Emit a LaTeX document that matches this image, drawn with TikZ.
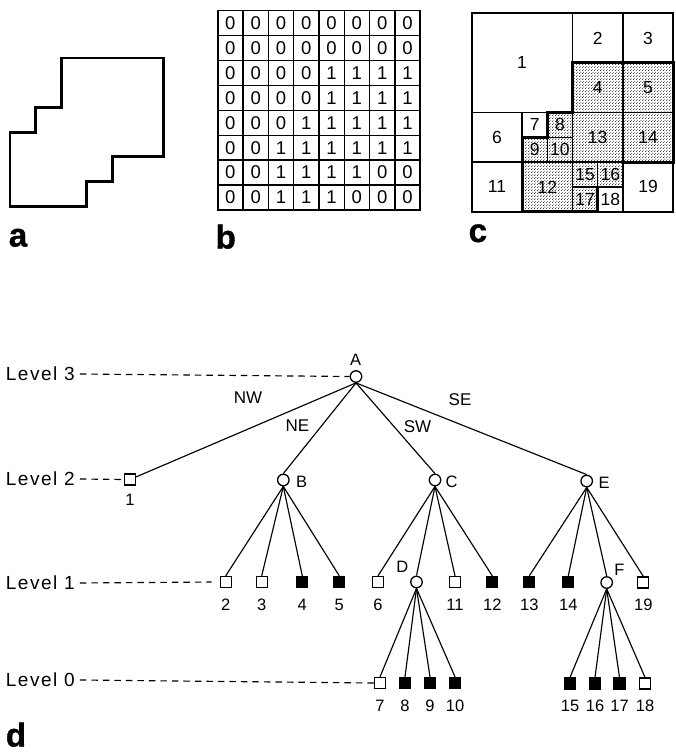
\documentclass[tikz,border=0pt]{standalone}
\usepackage{fontspec}
\setmainfont{Liberation Sans}
\newfontfamily\lvfont{Liberation Sans}[LetterSpace=8]
\newfontfamily\panelfont{Liberation Sans Bold}[FakeBold=1.2]
\usetikzlibrary{patterns.meta}

% fine dot stipple for the black quadrants
\tikzdeclarepattern{
  name=stipple,
  type=uncolored,
  bottom left={(0pt,0pt)},
  top right={(3pt,3pt)},
  tile size={(3pt,3pt)},
  code={
    \pgfpathcircle{\pgfpoint{0.75pt}{0.75pt}}{0.6pt}
    \pgfpathcircle{\pgfpoint{2.25pt}{2.25pt}}{0.6pt}
    \pgfusepath{fill}
  }
}

\begin{document}
\begin{tikzpicture}[x=1pt, y=-1pt,
  outline/.style={line width=2.8pt, line join=miter},
  gridln/.style={line width=1.4pt},
  frame/.style={line width=1.9pt},
  bit/.style={font=\fontsize{18.5}{18.5}\selectfont, inner sep=0},
  qnum/.style={font=\fontsize{17.5}{17.5}\selectfont, inner sep=0},
  panel/.style={font=\panelfont\fontsize{33}{33}\selectfont, inner sep=0, anchor=base west},
  sq/.style={draw, rectangle, minimum size=11pt, inner sep=0, line width=1.3pt, fill=white},
  sqf/.style={sq, fill=black},
  cir/.style={draw, circle, minimum size=11.5pt, inner sep=0, line width=1.3pt, fill=white},
  branch/.style={line width=1.15pt},
  lev/.style={font=\lvfont\fontsize{19}{19}\selectfont, inner sep=0, anchor=west},
  lvline/.style={line width=1.15pt, dash pattern=on 6.5pt off 5pt},
  tag/.style={font=\fontsize{16.5}{16.5}\selectfont, inner sep=0},
  dir/.style={font=\fontsize{17}{17}\selectfont, inner sep=0},
  every label/.style={tag},
  label distance=10.5pt,
  deep/.style={label distance=11.5pt}
]
\useasboundingbox (0,0) rectangle (675,752);

% ---------- a: outline of the region ----------
\draw[outline] (61.2,58) -- (163.6,58) -- (163.6,156.8) -- (112.4,156.8)
  -- (112.4,181.5) -- (86.8,181.5) -- (86.8,206.2) -- (10,206.2)
  -- (10,132.1) -- (35.6,132.1) -- (35.6,107.4) -- (61.2,107.4) -- cycle;
\node[panel] (pa) at (8.7,246.5) {a};

% ---------- b: binary array ----------
\foreach \i in {1,...,7}
  \draw[gridln] ({217.7+\i*25.3},10.5) -- ({217.7+\i*25.3},210);
\foreach \j in {1,...,7}
  \draw[gridln] (217.7,{10.5+\j*24.94}) -- (420.1,{10.5+\j*24.94});
\draw[frame] (217.7,10.5) rectangle (420.1,210);
\foreach \row [count=\j from 0] in {
    {0,0,0,0,0,0,0,0},{0,0,0,0,0,0,0,0},{0,0,0,0,1,1,1,1},{0,0,0,0,1,1,1,1},
    {0,0,0,1,1,1,1,1},{0,0,1,1,1,1,1,1},{0,0,1,1,1,1,0,0},{0,0,1,1,1,0,0,0}}
  \foreach \v [count=\i from 0] in \row
    \node[bit] (b\i-\j) at ({230.35+\i*25.3},{22.97+\j*24.94}) {\v};
\node[panel] (pb) at (215.5,248.5) {b};

% ---------- c: maximal blocks ----------
\foreach \c/\r/\w/\s/\t in {0/0/4/0/1, 4/0/2/0/2, 6/0/2/0/3, 4/2/2/1/4, 6/2/2/1/5,
    0/4/2/0/6, 2/4/1/0/7, 3/4/1/1/8, 2/5/1/1/9, 3/5/1/1/10, 0/6/2/0/11,
    2/6/2/1/12, 4/4/2/1/13, 6/4/2/1/14, 4/6/1/1/15, 5/6/1/1/16, 4/7/1/1/17,
    5/7/1/0/18, 6/6/2/0/19}{
  \pgfmathsetmacro\xa{471.7+\c*25.2}
  \pgfmathsetmacro\ya{13.3+\r*24.8}
  \pgfmathsetmacro\xb{\xa+\w*25.2}
  \pgfmathsetmacro\yb{\ya+\w*24.8}
  \ifnum\s=1
    \fill[pattern=stipple, pattern color=black] (\xa,\ya) rectangle (\xb,\yb);
  \fi
  \draw[gridln] (\xa,\ya) rectangle (\xb,\yb);
  \node[qnum] (q\t) at ({(\xa+\xb)/2},{(\ya+\yb)/2}) {\t};
}
\draw[frame] (471.7,13.3) rectangle (673.3,211.7);
\draw[outline] (572.5,62.9) -- (673.3,62.9) -- (673.3,162.1) -- (622.9,162.1)
  -- (622.9,186.9) -- (597.7,186.9) -- (597.7,211.7) -- (522.1,211.7)
  -- (522.1,137.3) -- (547.3,137.3) -- (547.3,112.5) -- (572.5,112.5) -- cycle;
\node[panel] (pc) at (468.5,242) {c};

% ---------- d: quadtree ----------
% level 3
\node[cir] (A) at (356,376.5) {};
\node[tag] (tA) at (355.5,360) {A};
% level 2
\node[sq, label={[label distance=8pt]below:1}] (n1) at (130,479.5) {};
\node[cir] (B) at (283.3,480) {};
\node[tag] (tB) at (301.5,482) {B};
\node[cir] (C) at (435,480) {};
\node[tag] (tC) at (451.5,482) {C};
\node[cir] (E) at (586.7,481) {};
\node[tag] (tE) at (604,483) {E};
% level 1
\node[sq,  label=below:2]  (n2)  at (225.7,582) {};
\node[sq,  label=below:3]  (n3)  at (261.7,582) {};
\node[sqf, label=below:4]  (n4)  at (302.3,582) {};
\node[sqf, label=below:5]  (n5)  at (339.3,582) {};
\node[sq,  label=below:6]  (n6)  at (378,582) {};
\node[cir] (D) at (416.5,582) {};
\node[tag] (tD) at (402.3,567) {D};
\node[sq,  label=below:11] (n11) at (455,582) {};
\node[sqf, label=below:12] (n12) at (492.3,582) {};
\node[sqf, label=below:13] (n13) at (529.3,582) {};
\node[sqf, label=below:14] (n14) at (568.3,582) {};
\node[cir] (F) at (606.7,582.5) {};
\node[tag] (tF) at (619.3,570) {F};
\node[sq,  label=below:19] (n19) at (643.3,582.5) {};
% level 0
\node[sq,  deep, label=below:7]  (n7)  at (380,683) {};
\node[sqf, deep, label=below:8]  (n8)  at (405,683) {};
\node[sqf, deep, label=below:9]  (n9)  at (430,683) {};
\node[sqf, deep, label=below:10] (n10) at (455,683) {};
\node[sqf, deep, label=below:15] (n15) at (570,683.5) {};
\node[sqf, deep, label=below:16] (n16) at (595,683.5) {};
\node[sqf, deep, label=below:17] (n17) at (619.5,683.5) {};
\node[sq,  deep, label=below:18] (n18) at (645,683.5) {};

% quadrant names on the top branches
\node[dir] (eNW) at (248,397.5) {NW};
\node[dir] (eNE) at (297.5,426) {NE};
\node[dir] (eSW) at (417.5,426.5) {SW};
\node[dir] (eSE) at (460,399.5) {SE};

% branches
\draw[branch] (A.south) -- (n1);
\foreach \t in {B,C,E} \draw[branch] (A.south) -- (\t.north);
\foreach \t in {n2,n3,n4,n5} \draw[branch] (B.south) -- (\t.north);
\foreach \t in {n6,D,n11,n12} \draw[branch] (C.south) -- (\t.north);
\foreach \t in {n13,n14,F,n19} \draw[branch] (E.south) -- (\t.north);
\foreach \t in {n7,n8,n9,n10} \draw[branch] (D.south) -- (\t.north);
\foreach \t in {n15,n16,n17,n18} \draw[branch] (F.south) -- (\t.north);

% level captions and their guide lines
\node[lev] (L3) at (5.7,374) {Level 3};
\node[lev] (L2) at (5.7,479) {Level 2};
\node[lev] (L1) at (5.7,583) {Level 1};
\node[lev] (L0) at (5.7,680) {Level 0};
\draw[lvline] ([xshift=5pt]L3.east) -- (A.west);
\draw[lvline] ([xshift=5pt]L2.east) -- (n1.west);
\draw[lvline] ([xshift=5pt]L1.east) -- ([xshift=-8pt]n2.west);
\draw[lvline] ([xshift=5pt]L0.east) -- (n7.west);

\node[panel] (pd) at (5.7,746.5) {d};
\end{tikzpicture}
\end{document}
